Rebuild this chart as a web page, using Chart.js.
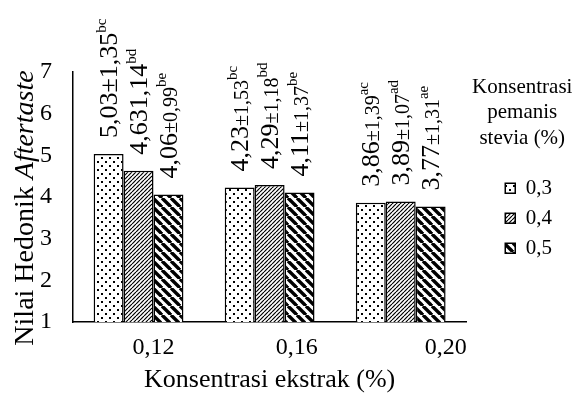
<!DOCTYPE html>
<html>
<head>
<meta charset="utf-8">
<script src="https://cdn.jsdelivr.net/npm/chart.js@4.4.0/dist/chart.umd.min.js"></script>
<style>
  html, body { margin: 0; padding: 0; background: #fff; }
  #wrap { width: 574px; height: 398px; }
</style>
</head>
<body>
<div id="wrap"><canvas id="myChart"></canvas></div>
<script>
// data
let categories = ['0,12', '0,16', '0,20'];
let seriesLabels = ['0,3', '0,4', '0,5'];
let yTicks = ['1', '2', '3', '4', '5', '6', '7'];

let mean03 = [5.03, 4.23, 3.86];
let mean04 = [4.63, 4.29, 3.89];
let mean05 = [4.06, 4.11, 3.77];

let sd03 = ['±1,35', '±1,53', '±1,39'];
let sd04 = ['1,14', '±1,18', '±1,07'];
let sd05 = ['±0,99', '±1,37', '±1,31'];

let sup03 = ['bc', 'bc', 'ac'];
let sup04 = ['bd', 'bd', 'ad'];
let sup05 = ['be', 'be', 'ae'];

const serif = '"Liberation Serif", "Times New Roman", serif';

function makePattern(kind) {
    let c = document.createElement('canvas');
    let size = kind === 'wide' ? 9 : (kind === 'dots' ? 8 : 4);
    c.width = size;
    c.height = size;
    let g = c.getContext('2d');
    g.fillStyle = '#fff';
    g.fillRect(0, 0, size, size);
    g.fillStyle = '#000';
    g.strokeStyle = '#000';
    if (kind === 'dots') {
        g.fillRect(1, 1, 2, 2);
        g.fillRect(5, 5, 2, 2);
    } else if (kind === 'fine') {
        g.lineWidth = 1.2;
        for (let k = -size; k <= size; k += size) {
            g.beginPath();
            g.moveTo(k, size);
            g.lineTo(k + size, 0);
            g.stroke();
        }
    } else {
        g.lineWidth = 3.4;
        for (let k = -size; k <= size; k += size) {
            g.beginPath();
            g.moveTo(k, 0);
            g.lineTo(k + size, size);
            g.stroke();
        }
    }
    return g.createPattern(c, 'repeat');
}

function fmt(v) {
    return v.toFixed(2).replace('.', ',');
}

// rotated value labels above each bar
const barLabels = {
    id: 'barLabels',
    afterDatasetsDraw(chart) {
        let ctx = chart.ctx;
        chart.data.datasets.forEach((ds, di) => {
            chart.getDatasetMeta(di).data.forEach((bar, i) => {
                let smallSd = !(i === 0 && di < 2);
                let parts = [
                    { t: fmt(ds.data[i]), f: '26px ' + serif, dy: 8.5 },
                    { t: ds.sd[i], f: (smallSd ? '20px ' : '26px ') + serif, dy: 8.5 },
                    { t: ds.sup[i], f: '15px ' + serif, dy: -2.5 }
                ];
                ctx.save();
                ctx.translate(bar.x, bar.y - 16);
                ctx.rotate(-Math.PI / 2);
                ctx.fillStyle = '#000';
                ctx.textAlign = 'left';
                ctx.textBaseline = 'alphabetic';
                let x = 0;
                parts.forEach(p => {
                    ctx.font = p.f;
                    ctx.fillText(p.t, x, p.dy);
                    x += ctx.measureText(p.t).width;
                });
                ctx.restore();
            });
        });
    }
};

// y title with italic part, and the legend heading
const extraText = {
    id: 'extraText',
    afterDraw(chart) {
        let ctx = chart.ctx;
        ctx.save();
        ctx.fillStyle = '#000';
        let a = 'Nilai Hedonik ', b = 'Aftertaste';
        let fa = '28px ' + serif, fb = 'italic 28px ' + serif;
        ctx.font = fa;
        let wa = ctx.measureText(a).width;
        ctx.font = fb;
        let wb = ctx.measureText(b).width;
        let cy = (chart.chartArea.top + chart.chartArea.bottom) / 2 + 11;
        ctx.translate(33, cy);
        ctx.rotate(-Math.PI / 2);
        ctx.textAlign = 'left';
        ctx.textBaseline = 'alphabetic';
        ctx.font = fa;
        ctx.fillText(a, -(wa + wb) / 2, 0);
        ctx.font = fb;
        ctx.fillText(b, -(wa + wb) / 2 + wa, 0);
        ctx.restore();

        let lg = chart.legend;
        ctx.save();
        ctx.fillStyle = '#000';
        ctx.font = '21px ' + serif;
        ctx.textAlign = 'center';
        ctx.textBaseline = 'middle';
        ['Konsentrasi', 'pemanis', 'stevia (%)'].forEach((line, k) => {
            ctx.fillText(line, lg.left + 26, lg.top + 15 + k * 25.5);
        });
        ctx.restore();
    }
};

let xPad = [5, 9, 15];

let ctxChart = document.getElementById('myChart').getContext('2d');
let chart = new Chart(ctxChart, {
    type: 'bar',
    data: {
        labels: categories,
        datasets: [
            {
                label: seriesLabels[0],
                data: mean03,
                sd: sd03,
                sup: sup03,
                backgroundColor: makePattern('dots'),
                borderColor: '#000',
                borderWidth: 1.5
            },
            {
                label: seriesLabels[1],
                data: mean04,
                sd: sd04,
                sup: sup04,
                backgroundColor: makePattern('fine'),
                borderColor: '#000',
                borderWidth: 1.5
            },
            {
                label: seriesLabels[2],
                data: mean05,
                sd: sd05,
                sup: sup05,
                backgroundColor: makePattern('wide'),
                borderColor: '#000',
                borderWidth: 1.5
            }
        ]
    },
    options: {
        responsive: true,
        maintainAspectRatio: false,
        animation: false,
        categoryPercentage: 0.685,
        barPercentage: 1,
        layout: { padding: { top: 72, right: 12, bottom: 0, left: 0 } },
        plugins: {
            tooltip: { enabled: false },
            legend: {
                position: 'right',
                align: 'start',
                title: { display: true, text: '', font: { size: 19, family: serif }, padding: { top: 0, bottom: 74 } },
                labels: {
                    boxWidth: 10,
                    boxHeight: 10,
                    padding: 9,
                    color: '#000',
                    font: { size: 21, family: serif }
                }
            }
        },
        scales: {
            x: {
                grid: { display: false, drawTicks: false },
                border: { display: true, color: '#000', width: 1.5 },
                ticks: {
                    color: '#000',
                    font: { size: 24, family: serif },
                    padding: 11,
                    autoSkip: false,
                    maxRotation: 0,
                    minRotation: 0,
                    callback: (v, i) => ' '.repeat(xPad[i]) + categories[i]
                },
                title: {
                    display: true,
                    text: 'Konsentrasi ekstrak (%)',
                    color: '#000',
                    font: { size: 26, family: serif },
                    padding: { top: 0, bottom: 2 }
                },
                afterFit(s) { s.height = 76; }
            },
            y: {
                min: 1,
                max: 7,
                grid: { display: false, drawTicks: false },
                border: { display: true, color: '#000', width: 1.5 },
                ticks: {
                    stepSize: 1,
                    color: '#000',
                    font: { size: 24, family: serif },
                    padding: 21,
                    callback: (v) => yTicks[v - 1]
                },
                afterFit(s) { s.width = 73; }
            },
            gap: {
                position: 'right',
                display: true,
                grid: { display: false, drawTicks: false },
                border: { display: false },
                ticks: { display: false },
                afterFit(s) { s.width = 30; }
            }
        }
    },
    plugins: [barLabels, extraText]
});
</script>
</body>
</html>
